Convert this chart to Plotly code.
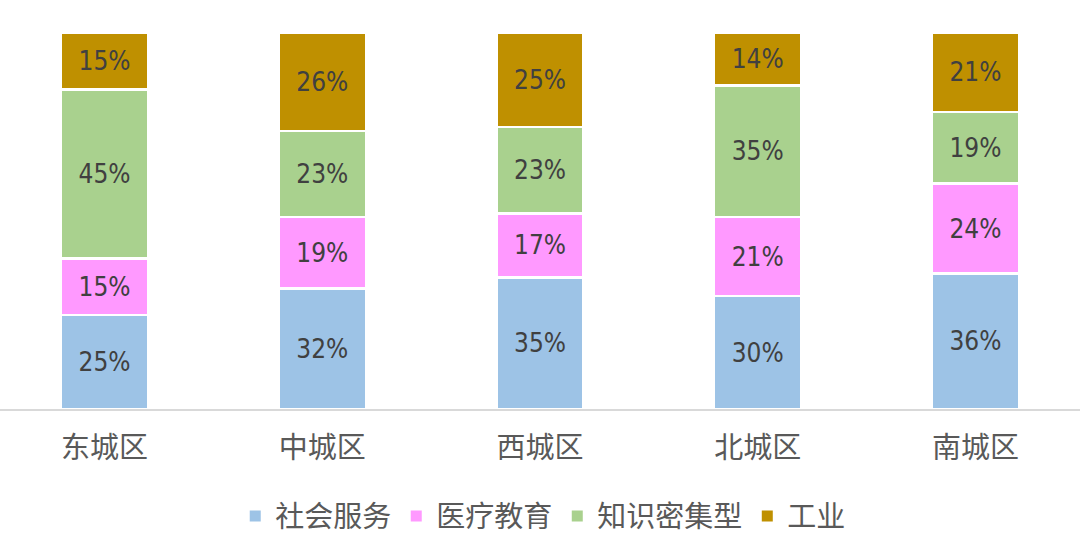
import plotly.graph_objects as go

# districts and share of each sector (%)
districts = ["东城区", "中城区", "西城区", "北城区", "南城区"]
series_names = ["社会服务", "医疗教育", "知识密集型", "工业"]
social = [25, 32, 35, 30, 36]
medical = [15, 19, 17, 21, 24]
knowledge = [45, 23, 23, 35, 19]
industry = [15, 26, 25, 14, 21]

colors = ["#9DC3E6", "#FF99FF", "#A9D18E", "#BF9000"]
values = [social, medical, knowledge, industry]

fig = go.Figure()
for name, vals, col in zip(series_names, values, colors):
    # bars (legend handled by marker traces below)
    fig.add_trace(go.Bar(
        x=districts, y=vals, name=name, showlegend=False,
        marker=dict(color=col, line=dict(color="white", width=2.5)),
        text=[f"{v}%" for v in vals], textposition="inside",
        insidetextanchor="middle", textangle=0, constraintext="none",
        textfont=dict(family="DejaVu Sans Condensed, Liberation Sans Narrow, sans-serif",
                      size=26, color="#404040"),
        hoverinfo="skip",
    ))
    # small square legend markers
    fig.add_trace(go.Scatter(
        x=[None], y=[None], mode="markers", name=name,
        marker=dict(symbol="square", size=11, color=col),
    ))

fig.update_layout(
    barmode="stack",
    bargap=0.6,
    width=1080, height=542,
    margin=dict(l=0, r=0, t=33, b=122),
    plot_bgcolor="white",
    paper_bgcolor="white",
    font=dict(family="Noto Sans CJK SC", size=29, color="#595959"),
    legend=dict(orientation="h", x=0.503, xanchor="center",
                y=-0.285, yanchor="middle", traceorder="normal",
                font=dict(size=29, color="#595959"),
                itemwidth=30, tracegroupgap=0),
)
fig.update_xaxes(range=[-0.48, 4.48], showline=True, linecolor="#D9D9D9",
                 linewidth=2, ticks="", ticklabelstandoff=12,
                 tickfont=dict(size=29, color="#595959"))
fig.update_yaxes(range=[0, 100], visible=False, showgrid=False)

# drop the default page margin so the figure sits at the window corner
fig.write_html("out.html", config={"displayModeBar": False},
               post_script="document.body.style.margin='0px';")
